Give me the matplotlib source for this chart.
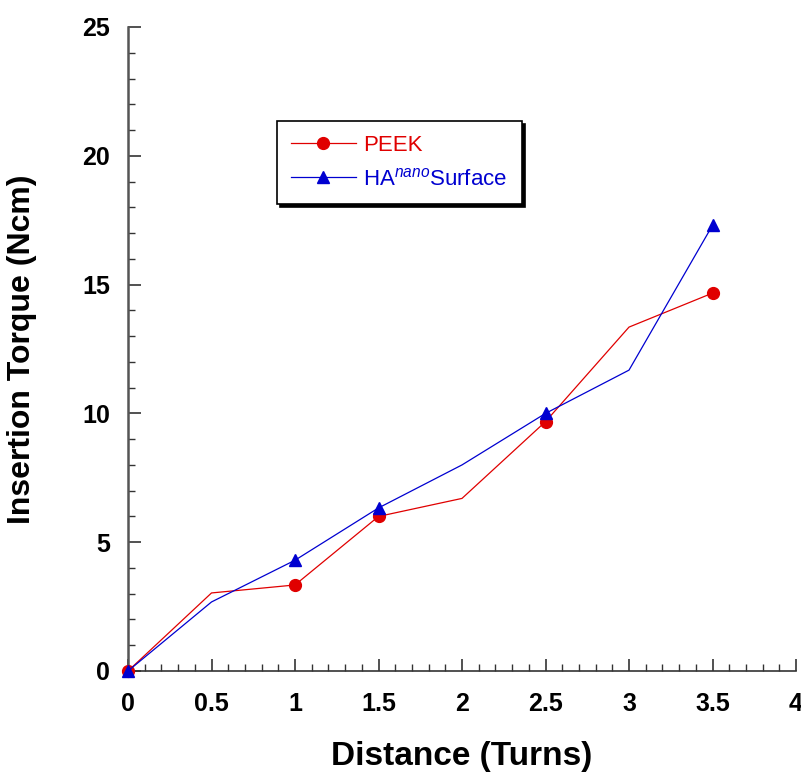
import matplotlib
matplotlib.use("Agg")
import matplotlib.pyplot as plt
from matplotlib.ticker import MultipleLocator

plt.rcParams['font.family'] = ['Liberation Sans', 'DejaVu Sans']
plt.rcParams['mathtext.fontset'] = 'custom'
plt.rcParams['mathtext.rm'] = 'Liberation Sans'
plt.rcParams['mathtext.it'] = 'Liberation Sans:italic'

turns = [0, 0.5, 1, 1.5, 2, 2.5, 3, 3.5]
peek = [0, 3.03, 3.34, 6.0, 6.7, 9.68, 13.35, 14.67]
ha_nano = [0, 2.68, 4.3, 6.33, 8.0, 10.0, 11.68, 17.3]

fig = plt.figure(figsize=(8.01, 7.72), dpi=100)
ax = fig.add_axes([128 / 801, 1 - 671 / 772, 668 / 801, 644 / 772])

ax.plot(turns, peek, color='#e00000', lw=0.9, marker='o', ms=8.5,
        markevery=[0, 2, 3, 5, 7], label='PEEK', clip_on=False, zorder=3)
ax.plot(turns, ha_nano, color='#0000d0', lw=0.9, marker='^', ms=8.5,
        markevery=[0, 2, 3, 5, 7], label=r'HA$^{\mathit{nano}}$Surface',
        clip_on=False, zorder=4)

ax.set_xlim(0, 4)
ax.set_ylim(0, 25)
ax.xaxis.set_major_locator(MultipleLocator(0.5))
ax.xaxis.set_minor_locator(MultipleLocator(0.1))
ax.yaxis.set_major_locator(MultipleLocator(5))
ax.yaxis.set_minor_locator(MultipleLocator(1))
ax.xaxis.set_major_formatter(plt.FuncFormatter(lambda v, p: f'{v:g}'))

for s in ['top', 'right']:
    ax.spines[s].set_visible(False)
ax.spines['left'].set_color('#555555')
ax.spines['left'].set_linewidth(1.8)
ax.spines['bottom'].set_color('#333333')
ax.spines['bottom'].set_linewidth(1.2)

ax.tick_params(which='both', direction='in', color='#333333')
ax.tick_params(which='major', length=9, width=1.2, labelsize=18)
ax.tick_params(which='minor', length=5, width=1.0)
ax.tick_params(axis='y', which='major', pad=13)
ax.tick_params(axis='x', which='major', pad=15)
for lab in ax.get_xticklabels() + ax.get_yticklabels():
    lab.set_fontweight('bold')

ax.set_xlabel('Distance (Turns)', fontsize=24, fontweight='bold', va='center')
ax.set_ylabel('Insertion Torque (Ncm)', fontsize=23, fontweight='bold', va='center')
ax.xaxis.set_label_coords(0.5, -0.1335)
ax.yaxis.set_label_coords(-0.1587, 0.5)

leg = ax.legend(loc='upper left', bbox_to_anchor=(149 / 668, 1 - 94 / 644),
                fontsize=16, frameon=True, fancybox=False, edgecolor='black',
                shadow={'color': 'black', 'alpha': 1.0}, borderpad=0.64,
                borderaxespad=0, handlelength=2.9, labelspacing=0.53,
                handletextpad=0.35)
leg.get_frame().set_linewidth(1.2)
for txt, c in zip(leg.get_texts(), ['#e00000', '#0000d0']):
    txt.set_color(c)

fig.savefig('out.png', dpi=100)
